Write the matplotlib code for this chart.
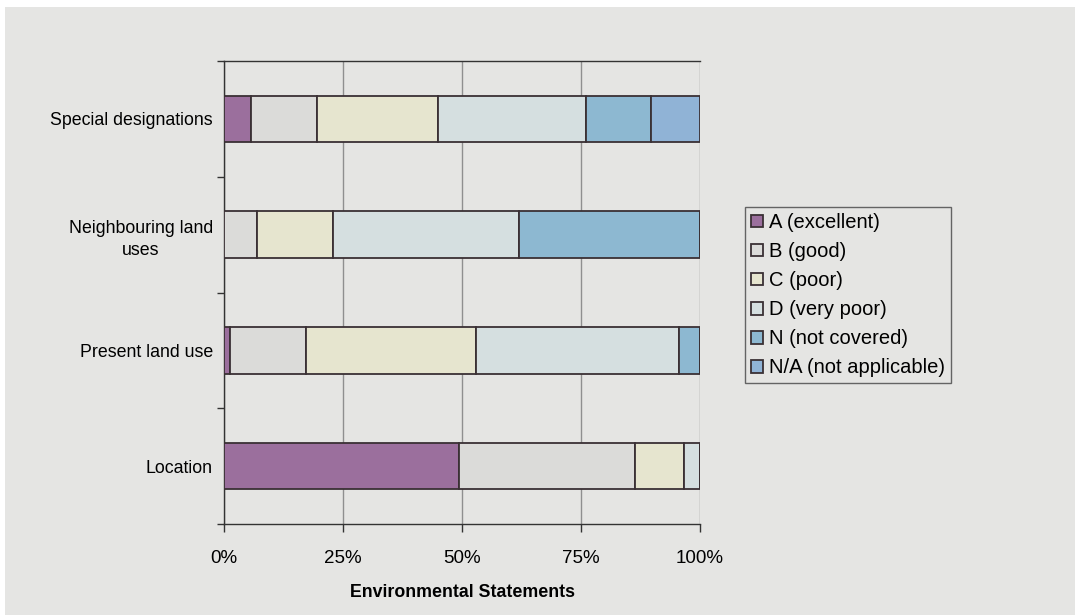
#!/usr/bin/env python3

import numpy as np
import matplotlib.pyplot as plt
from matplotlib.patches import Rectangle

# Share of environmental statements per grade (percent), bottom to top
categories = ["Location", "Present land use", "Neighbouring land\nuses", "Special designations"]
grades = ["A (excellent)", "B (good)", "C (poor)", "D (very poor)", "N (not covered)", "N/A (not applicable)"]
a_excellent = [49.4, 1.2, 0.0, 5.7]
b_good = [36.9, 16.0, 6.9, 13.8]
c_poor = [10.4, 35.7, 16.1, 25.5]
d_very_poor = [3.3, 42.7, 39.0, 31.0]
n_not_covered = [0.0, 4.4, 38.0, 13.7]
na_not_applicable = [0.0, 0.0, 0.0, 10.3]

colors = ["#9b6f9d", "#dbdbd9", "#e6e5cf", "#d5dfe0", "#8db8d1", "#90b3d6"]
bg = "#e5e5e3"

plt.rcParams['font.family'] = ['Liberation Sans', 'DejaVu Sans']

fig = plt.figure(figsize=(10.77, 6.15), dpi=100, facecolor="white")
# paper area inside the thin white border
fig.patches.append(Rectangle((5 / 1077, 0), 1 - 7 / 1077, 1 - 7 / 615,
                             transform=fig.transFigure, facecolor=bg,
                             edgecolor="none", zorder=-5))

ax = fig.add_axes([224 / 1077, 1 - 524 / 615, 476 / 1077, 463 / 615])
ax.set_facecolor(bg)

series = [a_excellent, b_good, c_poor, d_very_poor, n_not_covered, na_not_applicable]
y = np.arange(len(categories))
left = np.zeros(len(categories))
for name, vals, col in zip(grades, series, colors):
  vals = np.array(vals)
  ax.barh(y, vals, left=left, height=0.4, color=col, edgecolor="#3a3034",
          linewidth=1.3, label=name, zorder=3)
  left += vals

ax.set_xlim(0, 100)
ax.set_ylim(-0.5, len(categories) - 0.5)

ax.set_xticks([0, 25, 50, 75, 100])
ax.set_xticklabels(["0%", "25%", "50%", "75%", "100%"])
ax.xaxis.grid(True, color="#8f8f8f", linewidth=1, zorder=0)
ax.tick_params(axis="x", length=6, width=1, pad=13, labelsize=13.5, color="#333333")

ax.set_yticks(y)
ax.set_yticklabels(categories, multialignment="center", linespacing=1.45)
ax.set_yticks(np.arange(-0.5, len(categories)), minor=True)
ax.tick_params(axis="y", which="major", length=0, pad=8, labelsize=12.8)
ax.tick_params(axis="y", which="minor", length=5, width=1, color="#333333")

for side in ["left", "bottom", "top"]:
  ax.spines[side].set_color("#333333")
  ax.spines[side].set_linewidth(1)
ax.spines["right"].set_visible(False)

ax.set_xlabel("Environmental Statements", fontsize=12.8, fontweight="bold", labelpad=12)

leg = fig.legend(loc="upper left", bbox_to_anchor=(745 / 1077, 1 - 207 / 615),
                 fontsize=14.5, frameon=True, fancybox=False, facecolor=bg,
                 edgecolor="#444444", handlelength=0.6, handleheight=0.6,
                 handletextpad=0.3, labelspacing=0.5, borderpad=0.3,
                 borderaxespad=0)
leg.get_frame().set_linewidth(1)

fig.savefig("out.png", dpi=100, facecolor=fig.get_facecolor())
